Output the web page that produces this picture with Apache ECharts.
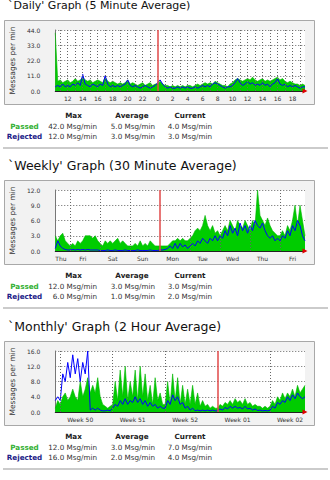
<!DOCTYPE html>
<html>
<head>
<meta charset="utf-8">
<title>Mail traffic graphs</title>
<script src="https://cdn.jsdelivr.net/npm/echarts@6/dist/echarts.min.js"></script>
<style>
  html, body { margin: 0; padding: 0; background: #fff; }
  #page { width: 330px; height: 480px; }
</style>
</head>
<body>
<div id="page"></div>
<script>
// ---------- series values (messages per minute) ----------
// Daily: 20-minute samples, Thu 10:20 -> Fri 19:40
const dailyPassed = [
  42, 7, 8, 6, 7, 8, 6, 7, 9, 7,
  8, 10, 8, 7, 8, 6, 7, 8, 7, 6,
  10, 7, 6, 7, 6, 5, 6, 5, 6, 8,
  5, 6, 5, 4, 5, 6, 4, 5, 6, 4,
  5, 5, 7, 5, 4, 4, 3, 4, 3, 4,
  3, 4, 3, 4, 4, 3, 4, 5, 4, 5,
  6, 5, 6, 5, 7, 6, 5, 4, 4, 3,
  5, 6, 8, 9, 8, 7, 8, 9, 8, 10,
  8, 7, 8, 9, 7, 8, 7, 8, 9, 10,
  8, 9, 7, 6, 7, 6, 5, 5, 4, 5,
  4
];
const dailyRejected = [
  3, 4, 3, 5, 3, 4, 3, 5, 4, 6,
  4, 12, 5, 4, 3, 5, 4, 3, 5, 4,
  11, 5, 3, 4, 3, 4, 3, 4, 5, 8,
  4, 3, 4, 3, 2, 3, 4, 3, 2, 3,
  4, 6, 8, 5, 3, 2, 3, 2, 2, 3,
  2, 3, 2, 3, 2, 2, 3, 2, 3, 4,
  3, 4, 3, 5, 6, 5, 4, 3, 2, 3,
  3, 4, 6, 9, 6, 4, 5, 7, 5, 6,
  4, 5, 4, 6, 4, 5, 3, 5, 6, 9,
  5, 4, 5, 3, 4, 3, 4, 3, 2, 3,
  3
];
// Weekly: 2-hour samples, Thu 12:00 -> next Fri 20:00
const weeklyPassed = [
  3, 2, 3, 3.5, 2, 1.5, 1, 1.5, 1, 2,
  1.5, 2, 3, 3, 3, 2.5, 3, 2, 1.5, 1,
  2, 1.5, 2, 1.5, 2, 2.5, 1.5, 2, 1.5, 1,
  1, 1, 1.5, 1, 2, 1, 1.5, 1, 2, 1.5,
  1, 1, 1, 1, 1, 1, 1.5, 2, 2, 2.5,
  2, 2.5, 2, 2, 2.5, 3, 4, 4.5, 4, 5,
  7, 5, 4, 5, 3.5, 4, 3, 4, 5, 4,
  6, 5, 4, 6, 5, 4.5, 6, 5, 4, 6,
  5, 12, 7, 6, 5, 6.5, 5, 4, 3.5, 3,
  3, 4, 3, 5, 4, 6, 9, 5, 9, 6,
  3
];
const weeklyRejected = [
  0.5, 2, 1, 0.5, 0.3, 0.2, 0.2, 0.3, 0.2, 0.3,
  0.2, 0.3, 0.2, 0.3, 0.2, 0.2, 0.2, 0.2, 0.1, 0.1,
  0.1, 0.2, 0.1, 0.1, 0.2, 0.1, 0.1, 0.1, 0.2, 0.1,
  0.1, 0.1, 0.1, 0.2, 0.1, 0.1, 0.1, 0.1, 0.2, 0.1,
  0.1, 0.1, 0.2, 0.2, 0.3, 0.5, 1, 0.5, 1.5, 0.5,
  1.5, 0.8, 1.2, 0.5, 1, 1.5, 1, 2, 1.5, 2.5,
  2, 1.5, 2.5, 2, 3, 2, 3, 2.5, 4, 3,
  5, 3.5, 4.5, 3, 5.5, 4, 5, 3.5, 5, 4,
  6, 5, 4.5, 5.5, 4, 3, 2.5, 3, 2, 2.5,
  2, 3, 2.5, 4, 3, 5, 4, 6, 5, 3,
  2
];
// Monthly: 8-hour samples, Sun Dec 10 08:00 -> Fri Jan 12 16:00
const monthlyPassed = [
  1, 3, 2, 4, 5, 3, 4, 6, 4, 3,
  8, 4, 6, 9, 5, 7, 5, 9, 4, 2,
  1.5, 1, 1.5, 2, 8, 3, 11, 4, 12, 3,
  8, 4, 11, 3, 12, 4, 10, 3, 7, 2,
  9, 3, 5, 2, 2, 8, 2, 10, 3, 9,
  2, 7, 2, 6, 2, 7, 2, 5, 1.5, 3,
  1.5, 2, 1, 1.5, 1, 1, 2, 1.5, 2.5, 2,
  3, 2, 3.5, 2.5, 3, 2, 3.5, 2, 2.5, 1.5,
  2, 1.5, 1.5, 1, 1.5, 1, 1.5, 3, 2, 4,
  3, 5, 3.5, 5, 4, 6, 4, 7, 5, 6,
  7
];
const monthlyRejected = [
  3, 4, 3, 10, 8, 13, 9, 15, 10, 14,
  8, 13, 10, 16, 0.5, 1, 0.5, 1, 0.5, 0.3,
  0.3, 0.5, 0.3, 1, 2, 1.5, 3, 2, 3.5, 2,
  3, 2.5, 4, 2.5, 3.5, 2, 3, 1.5, 2.5, 1.5,
  2, 1, 1.5, 1, 1, 3, 2, 4.5, 3, 4,
  2, 2.5, 1, 1.5, 0.5, 1, 0.3, 0.5, 0.3, 0.5,
  0.3, 0.5, 0.3, 0.5, 0.3, 0.3, 0.8, 0.5, 1.2, 0.8,
  1.5, 1, 1.5, 1, 1.2, 0.8, 1.5, 0.8, 1, 0.5,
  0.8, 0.4, 0.5, 0.3, 0.4, 0.3, 0.5, 1.5, 1, 2.5,
  2, 3, 2.5, 4, 3, 4.5, 3.5, 5, 4, 3.5,
  4
];

// ---------- tick labels ----------
const dailyYTicks = [0, 11, 22, 33, 44];
const weeklyYTicks = [0, 3, 6, 9, 12];
const monthlyYTicks = [0, 4, 8, 12, 16];
const dayNames = ['Sun', 'Mon', 'Tue', 'Wed', 'Thu', 'Fri', 'Sat'];
const monthlyWeekLabels = ['Week 50', 'Week 51', 'Week 52', 'Week 01', 'Week 02'];

// ---------- summary tables ----------
const graphTitles = [
  "`Daily' Graph (5 Minute Average)",
  "`Weekly' Graph (30 Minute Average)",
  "`Monthly' Graph (2 Hour Average)"
];
const statHeads = ['Max', 'Average', 'Current'];
const rowNames = ['Passed', 'Rejected'];
const dailyPassedStats = [42.0, 5.0, 4.0];
const dailyRejectedStats = [12.0, 3.0, 3.0];
const weeklyPassedStats = [12.0, 3.0, 3.0];
const weeklyRejectedStats = [6.0, 1.0, 2.0];
const monthlyPassedStats = [12.0, 3.0, 7.0];
const monthlyRejectedStats = [16.0, 2.0, 4.0];

// ---------- time axes ----------
const pad = n => String(n).padStart(2, '0');
function timeline(start, stepMin, count) {
  const out = [];
  for (let i = 0; i < count; i++) out.push(new Date(start + i * stepMin * 60000));
  return out;
}
const stamp = d => `${d.getUTCFullYear()}-${pad(d.getUTCMonth() + 1)}-${pad(d.getUTCDate())} ${pad(d.getUTCHours())}:${pad(d.getUTCMinutes())}`;

const dailyTimes = timeline(Date.UTC(2024, 0, 11, 10, 20), 20, dailyPassed.length);
const weeklyTimes = timeline(Date.UTC(2024, 0, 4, 12, 0), 120, weeklyPassed.length);
const monthlyTimes = timeline(Date.UTC(2023, 11, 10, 8, 0), 480, monthlyPassed.length);

// week labels sit mid-week (Wednesday afternoon)
const weekLabelAt = {};
monthlyTimes.forEach((d, i) => {
  if (d.getUTCDay() === 3 && d.getUTCHours() === 16) {
    weekLabelAt[i] = monthlyWeekLabels[Object.keys(weekLabelAt).length];
  }
});

const FONT = 'DejaVu Sans';
const GREEN = '#00cc00';
const BLUE = '#0000ff';
const RED = '#e04848';
const GRID_LINE = { color: '#666', width: 1, type: [1, 2] };
const FRAME_TOP = [20, 180, 341];

const graphs = [
  {
    times: dailyTimes, passed: dailyPassed, rejected: dailyRejected, yTicks: dailyYTicks,
    label: d => d.getUTCMinutes() === 0 && d.getUTCHours() % 2 === 0,
    text: d => String(d.getUTCHours()),
    grid: d => d.getUTCMinutes() === 0,
    red: d => d.getUTCHours() === 0 && d.getUTCMinutes() === 0
  },
  {
    times: weeklyTimes, passed: weeklyPassed, rejected: weeklyRejected, yTicks: weeklyYTicks,
    label: (d, i) => i === 0 || d.getUTCHours() === 10,
    text: d => dayNames[d.getUTCDay()],
    grid: d => d.getUTCHours() === 0,
    red: d => d.getUTCDay() === 1 && d.getUTCHours() === 0
  },
  {
    times: monthlyTimes, passed: monthlyPassed, rejected: monthlyRejected, yTicks: monthlyYTicks,
    label: (d, i) => weekLabelAt[i] !== undefined,
    text: (d, i) => weekLabelAt[i] || '',
    grid: d => d.getUTCDay() === 1 && d.getUTCHours() === 0,
    red: d => d.getUTCDate() === 1 && d.getUTCHours() === 0
  }
];

const grids = [], xAxes = [], yAxes = [], series = [];
graphs.forEach((g, k) => {
  const cats = g.times.map(stamp);
  grids.push({
    left: 55, right: 25, top: FRAME_TOP[k] + 10, height: 61,
    show: true, backgroundColor: '#ffffff', borderWidth: 0
  });
  xAxes.push({
    type: 'category', gridIndex: k, data: cats, boundaryGap: false,
    axisLine: { show: true, lineStyle: { color: '#222', width: 1 } },
    axisTick: { show: false },
    axisLabel: {
      interval: (i) => g.label(g.times[i], i),
      formatter: (v, i) => g.text(g.times[i], i),
      fontFamily: FONT, fontSize: 6, color: '#333', margin: 4,
      alignMinLabel: k === 1 ? 'left' : null
    },
    splitLine: { show: false }
  });
  const yt = g.yTicks;
  yAxes.push({
    type: 'value', gridIndex: k, min: yt[0], max: yt[yt.length - 1], interval: yt[1] - yt[0],
    axisLine: { show: true, lineStyle: { color: '#777', width: 1 } },
    axisTick: { show: false },
    axisLabel: { formatter: v => v.toFixed(1), fontFamily: FONT, fontSize: 6, color: '#333', margin: 15 },
    splitLine: { show: true, lineStyle: GRID_LINE },
    name: 'Messages per min', nameLocation: 'middle', nameGap: 35, nameRotate: 90,
    nameTextStyle: { fontFamily: FONT, fontSize: 7.5, color: '#333' }
  });

  // vertical guides: dotted at each period boundary, red at the start of the new day/week/month
  const guides = [];
  g.times.forEach((d, i) => {
    if (g.red(d)) guides.push({ xAxis: cats[i], lineStyle: { color: RED, width: 1.5, type: 'solid' } });
    else if (g.grid(d)) guides.push({ xAxis: cats[i], lineStyle: GRID_LINE });
  });

  series.push({
    name: 'Passed', type: 'line', xAxisIndex: k, yAxisIndex: k, data: g.passed,
    symbol: 'none', silent: true, z: 2,
    lineStyle: { width: 0.6, color: '#00b400' },
    areaStyle: { color: GREEN, opacity: 1 },
    markLine: {
      silent: true, symbol: ['none', 'none'], label: { show: false },
      emphasis: { disabled: true },
      data: guides
    },
    markPoint: {
      silent: true, label: { show: false },
      data: [{ coord: [cats[cats.length - 1], 0], symbol: 'triangle', symbolSize: [5, 5], symbolRotate: -90, itemStyle: { color: '#e00000' } }]
    }
  });
  series.push({
    name: 'Rejected', type: 'line', xAxisIndex: k, yAxisIndex: k, data: g.rejected,
    symbol: 'none', silent: true, z: 3,
    lineStyle: { width: 1, color: BLUE }
  });
});

// ---------- frames, headings, tables, rules ----------
const graphic = [];
const statRows = [
  [dailyPassedStats, dailyRejectedStats],
  [weeklyPassedStats, weeklyRejectedStats],
  [monthlyPassedStats, monthlyRejectedStats]
];
const headX = [73.5, 132, 190];
const valRight = [97, 155, 212];
function txt(text, x, y, font, fill, align) {
  return {
    type: 'text', x: x, y: y, z: 100, silent: true,
    style: { text: text, font: font, fill: fill, align: align, textAlign: align, verticalAlign: 'middle', textVerticalAlign: 'middle' }
  };
}
FRAME_TOP.forEach((top, k) => {
  graphic.push({
    type: 'rect', z: -10, silent: true,
    shape: { x: 4.5, y: top + 0.5, width: 310, height: 84 },
    style: { fill: '#f2f2f2', stroke: '#a8a8a8', lineWidth: 1 }
  });
  graphic.push(k === 0
    ? txt(graphTitles[k], 8, 5, `11px "${FONT}"`, '#111', 'left')
    : txt(graphTitles[k], 8, top - 15, `12.5px "${FONT}"`, '#111', 'left'));
  statHeads.forEach((h, c) => graphic.push(txt(h, headX[c], top + 95, `bold 7.2px "${FONT}"`, '#222', 'center')));
  statRows[k].forEach((vals, r) => {
    const y = top + 106 + r * 10.5;
    graphic.push(txt(rowNames[r], 24.5, y, `bold 7.2px "${FONT}"`, r === 0 ? '#33b033' : '#1c1c88', 'center'));
    vals.forEach((v, c) => graphic.push(txt(`${v.toFixed(1)} Msg/min`, valRight[c], y, `7.2px "${FONT}"`, '#333', 'right')));
  });
  graphic.push({
    type: 'rect', z: -5, silent: true,
    shape: { x: 3, y: top + 127, width: 325, height: 2 },
    style: { fill: '#cbcbcb' }
  });
});

const chart = echarts.init(document.getElementById('page'), null, { renderer: 'svg', width: 330, height: 480 });
chart.setOption({
  animation: false,
  backgroundColor: '#ffffff',
  grid: grids,
  xAxis: xAxes,
  yAxis: yAxes,
  series: series,
  graphic: graphic
});
</script>
</body>
</html>
